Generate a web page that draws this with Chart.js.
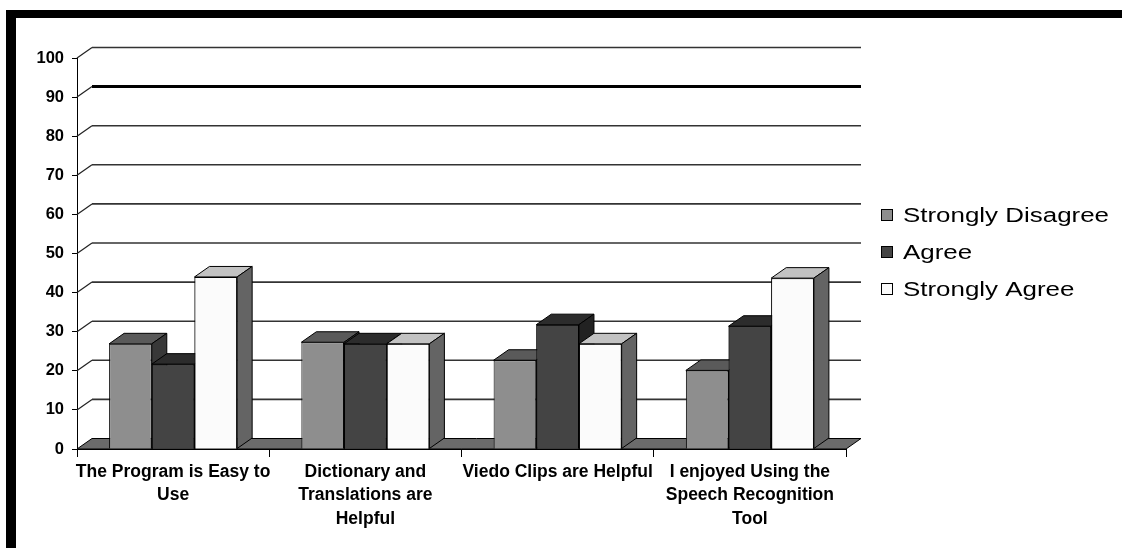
<!DOCTYPE html>
<html>
<head>
<meta charset="utf-8">
<script src="https://cdn.jsdelivr.net/npm/chart.js@4.4.1/dist/chart.umd.min.js"></script>
<style>
  html, body { margin: 0; padding: 0; background: #fff; }
  #wrap { width: 1122px; height: 548px; position: relative; }
</style>
</head>
<body>
<div id="wrap"><canvas id="chart"></canvas></div>
<script>
// Survey categories (multi-line axis labels)
const categories = [
  ["The Program is Easy to", "Use"],
  ["Dictionary and", "Translations are", "Helpful"],
  ["Viedo Clips are Helpful"],
  ["I enjoyed Using the", "Speech Recognition", "Tool"]
];

// Response percentages per category
const stronglyDisagree = [26.9, 27.3, 22.7, 20.1];
const agree            = [21.7, 26.9, 31.8, 31.4];
const stronglyAgree    = [44.0, 26.9, 26.9, 43.7];

const seriesNames = ["Strongly Disagree", "Agree", "Strongly Agree"];
const yTicks = { min: 0, max: 100, step: 10 };

// Face shades for the pseudo-3D columns: front, top, side
const shades = [
  { front: "#8e8e8e", top: "#5a5a5a", side: "#383838" },
  { front: "#444444", top: "#2c2c2c", side: "#222222" },
  { front: "#fbfbfb", top: "#c2c2c2", side: "#646464" }
];

// Depth offset of the 3D projection
const DX = 15, DY = -10.5;

function poly(ctx, pts, fill) {
  ctx.beginPath();
  ctx.moveTo(pts[0][0], pts[0][1]);
  for (let i = 1; i < pts.length; i++) ctx.lineTo(pts[i][0], pts[i][1]);
  ctx.closePath();
  ctx.fillStyle = fill;
  ctx.fill();
  ctx.lineWidth = 1;
  ctx.strokeStyle = "#000";
  ctx.stroke();
}

const pseudo3d = {
  id: "pseudo3d",
  beforeDraw(chart) {
    const ctx = chart.ctx;
    ctx.save();
    ctx.fillStyle = "#fff";
    ctx.fillRect(0, 0, chart.width, chart.height);
    // heavy frame along the top and left edges
    ctx.fillStyle = "#000";
    ctx.fillRect(6, 10, chart.width - 6, 8);
    ctx.fillRect(6, 10, 10, chart.height - 10);
    ctx.restore();
  },
  beforeDatasetsDraw(chart) {
    const { ctx, chartArea: { left, right, bottom }, scales: { y } } = chart;
    ctx.save();
    // back-wall gridlines with their slanted connectors to the axis
    y.ticks.forEach(t => {
      if (t.value === yTicks.min) return;
      const py = y.getPixelForValue(t.value);
      ctx.beginPath();
      ctx.moveTo(left, py);
      ctx.lineTo(left + DX, py + DY);
      ctx.lineWidth = 1.2;
      ctx.strokeStyle = "#222";
      ctx.stroke();
      ctx.beginPath();
      ctx.moveTo(left + DX, py + DY);
      ctx.lineTo(right + DX, py + DY);
      const heavy = t.value === 90;
      ctx.lineWidth = heavy ? 3 : 1.6;
      ctx.strokeStyle = heavy ? "#000" : "#333";
      ctx.stroke();
    });
    // floor
    poly(ctx, [[left, bottom], [right, bottom], [right + DX, bottom + DY], [left + DX, bottom + DY]], "#6b6b6b");
    ctx.restore();
  },
  afterDatasetsDraw(chart) {
    const ctx = chart.ctx;
    const metas = chart.data.datasets.map((_, i) => chart.getDatasetMeta(i));
    ctx.save();
    for (let c = 0; c < categories.length; c++) {
      for (let s = 0; s < metas.length; s++) {
        const el = metas[s].data[c];
        const { x, y, base, width } = el.getProps(["x", "y", "base", "width"], true);
        const l = x - width / 2, r = x + width / 2;
        poly(ctx, [[l, y], [r, y], [r + DX, y + DY], [l + DX, y + DY]], shades[s].top);
        poly(ctx, [[r, y], [r + DX, y + DY], [r + DX, base + DY], [r, base]], shades[s].side);
        if (s + 1 < metas.length) metas[s + 1].data[c].draw(ctx);
      }
    }
    ctx.restore();
  },
  afterDraw(chart) {
    const ctx = chart.ctx;
    ctx.save();
    ctx.font = '20px "Liberation Sans", Arial, sans-serif';
    ctx.textBaseline = "alphabetic";
    ctx.fillStyle = "#000";
    const stretch = 206 / ctx.measureText(seriesNames[0]).width;
    const baselines = [222, 259, 296];
    seriesNames.forEach((name, i) => {
      const b = baselines[i];
      ctx.fillStyle = shades[i].front;
      ctx.fillRect(881, b - 13, 12, 12);
      ctx.lineWidth = 1;
      ctx.strokeStyle = "#000";
      ctx.strokeRect(881.5, b - 12.5, 11, 11);
      ctx.save();
      ctx.translate(903, b);
      ctx.scale(stretch, 1);
      ctx.fillStyle = "#000";
      ctx.fillText(name, 0, 0);
      ctx.restore();
    });
    ctx.restore();
  }
};

const datasets = [stronglyDisagree, agree, stronglyAgree].map((values, i) => ({
  label: seriesNames[i],
  data: values,
  backgroundColor: shades[i].front,
  borderColor: "#000",
  borderWidth: 1,
  categoryPercentage: 0.666,
  barPercentage: 1.0
}));

new Chart(document.getElementById("chart"), {
  type: "bar",
  data: { labels: categories, datasets },
  plugins: [pseudo3d],
  options: {
    responsive: true,
    maintainAspectRatio: false,
    animation: false,
    devicePixelRatio: 1,
    layout: { padding: { top: 58, right: 276, left: 0, bottom: 0 } },
    plugins: { legend: { display: false }, tooltip: { enabled: false } },
    scales: {
      x: {
        afterFit(scale) { scale.height = 99; },
        grid: { offset: true, drawOnChartArea: false, tickLength: 8, color: "#000", lineWidth: 1 },
        border: { display: true, color: "#000", width: 1 },
        ticks: {
          autoSkip: false, maxRotation: 0, minRotation: 0, padding: 4,
          color: "#000",
          font: { family: '"Liberation Sans", Arial, sans-serif', size: 17.5, weight: "bold", lineHeight: 1.32 }
        }
      },
      y: {
        min: yTicks.min, max: yTicks.max,
        afterFit(scale) { scale.width = 77; },
        grid: { drawOnChartArea: false, tickLength: 5, color: "#000", lineWidth: 1 },
        border: { display: true, color: "#000", width: 1 },
        ticks: {
          stepSize: yTicks.step, padding: 8, color: "#000",
          font: { family: '"Liberation Sans", Arial, sans-serif', size: 16.5, weight: "bold" }
        }
      }
    }
  }
});
</script>
</body>
</html>
